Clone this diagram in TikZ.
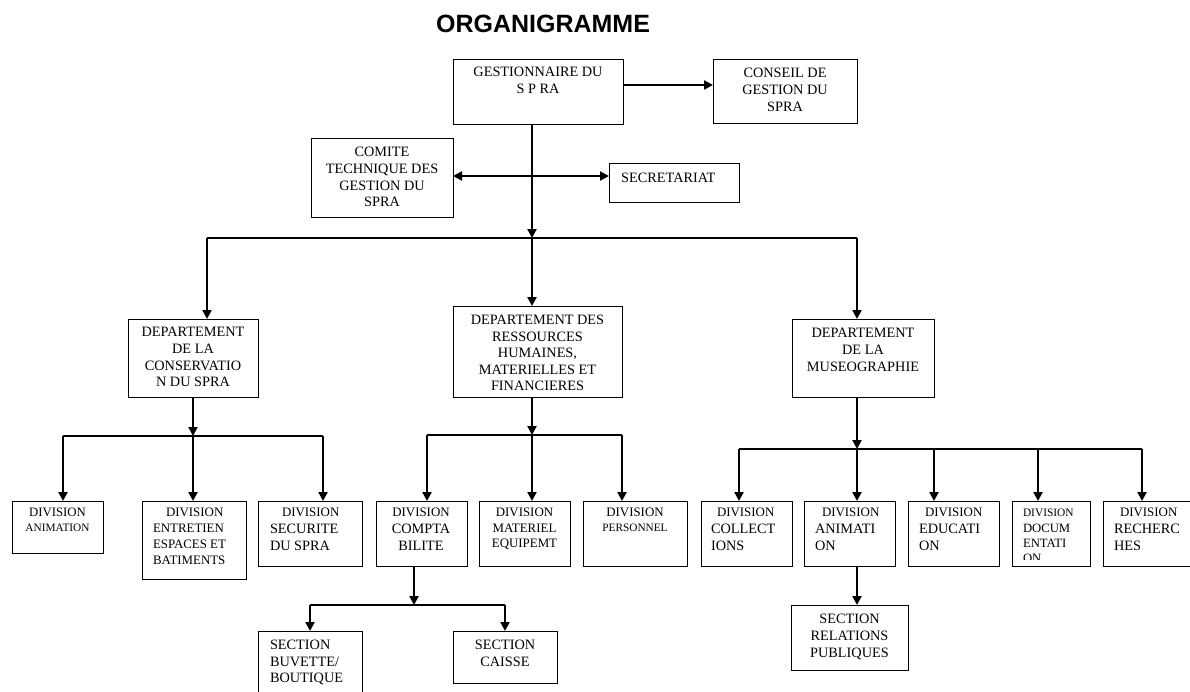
\documentclass[tikz,border=0pt]{standalone}
\usepackage{fontspec}
\setmainfont{Liberation Serif}
\newfontfamily\titlefont{Liberation Sans}
\usetikzlibrary{arrows.meta,calc}
\newcommand\fz[2]{\fontsize{#1}{#2}\selectfont}
\newcommand\bx[5]{\node[box, minimum width={(#4-#2)*1pt}, minimum height={(#5-#3)*1pt}] (#1) at ({(#2+#4)/2},{(#3+#5)/2}) {};}
\begin{document}
\begin{tikzpicture}[x=1pt, y=-1pt,
  box/.style={draw, line width=1pt, rectangle, inner sep=0pt, outer sep=0pt},
  txt/.style={inner sep=0pt, outer sep=0pt, anchor=north, align=center, font=\fz{14.3}{16.6}},
  ltxt/.style={inner sep=0pt, outer sep=0pt, anchor=north west, align=left, font=\fz{14.3}{16.6}},
  conn/.style={line width=2.2pt, -{Triangle[length=9pt,width=9pt]}},
  dconn/.style={line width=2.2pt, {Triangle[length=9pt,width=9pt]}-{Triangle[length=9pt,width=9pt]}},
  bus/.style={line width=1.3pt}]
\clip (0,0) rectangle (1190,691);
\fill[white] (0,0) rectangle (1190,691);

\node[inner sep=0pt, anchor=base, font=\titlefont\bfseries\fz{25}{30}] (title) at (543,32) {ORGANIGRAMME};

% boxes
\bx{gest}{453}{59}{623}{124}
\bx{conseil}{713}{59}{857}{123}
\bx{comite}{311}{138}{453}{217}
\bx{secr}{609}{163}{739}{202}
\bx{dcons}{128}{319}{258}{397}
\bx{drh}{453}{306}{622}{397}
\bx{dmus}{792}{319}{934}{397}
\bx{vanim}{12}{501}{103}{553}
\bx{ventr}{142}{501}{246}{579}
\bx{vsecu}{258}{501}{362}{566}
\bx{vcompta}{376}{501}{467}{566}
\bx{vmat}{479}{501}{570}{566}
\bx{vpers}{583}{501}{687}{566}
\bx{vcoll}{701}{501}{792}{566}
\bx{vanim2}{804}{501}{895}{566}
\bx{vedu}{908}{501}{999}{566}
\bx{vdoc}{1012}{501}{1090}{566}
\bx{vrech}{1103}{501}{1198}{566}
\bx{sbuv}{258}{631}{362}{702}
\bx{scaisse}{453}{631}{557}{683}
\bx{srel}{791}{605}{908}{670}

% texts
\node[txt, font=\fz{14.3}{17}] (tgest) at (538,67.4) {GESTIONNAIRE DU\\S P RA};
\node[txt] (tconseil) at (785,68.4) {CONSEIL DE\\GESTION DU\\SPRA};
\node[txt] (tcomite) at (382,147.4) {COMITE\\TECHNIQUE DES\\GESTION DU\\SPRA};
\node[inner sep=0pt, anchor=base west, font=\fz{14.3}{16.6}] (tsecr) at (621,182) {SECRETARIAT};
\node[txt] (tdcons) at (193,327.4) {DEPARTEMENT\\DE LA\\CONSERVATIO\\N DU SPRA};
\node[txt, font=\fz{14.3}{16.4}] (tdrh) at (537.5,315.4) {DEPARTEMENT DES\\RESSOURCES\\HUMAINES,\\MATERIELLES ET\\FINANCIERES};
\node[txt] (tdmus) at (863,328.4) {DEPARTEMENT\\DE LA\\MUSEOGRAPHIE};

\node[txt, font=\fz{12.8}{15}] (tvanim) at (57.5,508.4) {DIVISION\\\fz{11.3}{15}ANIMATION};
\node[ltxt, font=\fz{12.9}{15.7}] (tventr) at (153,508.4) {\hspace*{13pt}DIVISION\\ENTRETIEN\\ESPACES ET\\BATIMENTS};
\node[ltxt, font=\fz{14.3}{17}] (tvsecu) at (270,508.4) {\fz{12.9}{17}\hspace*{12pt}DIVISION\\\fz{14.3}{17}SECURITE\\DU SPRA};
\node[txt, font=\fz{14.3}{17}] (tvcompta) at (421,508.4) {\fz{12.9}{17}DIVISION\\\fz{14.3}{17}COMPTA\\BILITE};
\node[txt, font=\fz{12.9}{15.5}] (tvmat) at (524.5,508.4) {DIVISION\\\fz{12.9}{15.5}MATERIEL\\EQUIPEMT};
\node[txt, font=\fz{12.9}{15}] (tvpers) at (635,508.4) {DIVISION\\\fz{11.3}{15}PERSONNEL};
\node[ltxt, font=\fz{14.3}{17}] (tvcoll) at (711,508.4) {\fz{12.9}{17}\hspace*{6pt}DIVISION\\\fz{14.3}{17}COLLECT\\IONS};
\node[ltxt, font=\fz{14.3}{17}] (tvanim2) at (815,508.4) {\fz{12.9}{17}\hspace*{7pt}DIVISION\\\fz{14.3}{17}ANIMATI\\ON};
\node[ltxt, font=\fz{14.3}{17}] (tvedu) at (919,508.4) {\fz{12.9}{17}\hspace*{6pt}DIVISION\\\fz{14.3}{17}EDUCATI\\ON};
\begin{scope}
  \clip (1012,501) rectangle (1090,559);
  \node[ltxt, font=\fz{12.7}{15.3}] (tvdoc) at (1023,509.4) {\fz{11.4}{15.3}DIVISION\\\fz{12.7}{15.3}DOCUM\\ENTATI\\ON};
\end{scope}
\node[ltxt, font=\fz{14.3}{17}] (tvrech) at (1114,508.4) {\fz{12.9}{17}\hspace*{6pt}DIVISION\\\fz{14.3}{17}RECHERC\\HES};
\node[ltxt, font=\fz{14.3}{16.5}] (tsbuv) at (270,640.4) {SECTION\\BUVETTE/\\BOUTIQUE};
\node[txt, font=\fz{14.3}{16.5}] (tscaisse) at (505,640.4) {SECTION\\CAISSE};
\node[txt, font=\fz{14.3}{17}] (tsrel) at (849.5,614.4) {SECTION\\RELATIONS\\PUBLIQUES};

% top connectors
\coordinate (ga) at (623,85);
\draw[conn] (ga) -- (ga -| conseil.west);
\coordinate (cs) at (532,176);
\draw[dconn] (comite.east |- cs) -- (secr.west |- cs);
\coordinate (J0) at (532,238);
\draw[conn] (gest.south -| J0) -- (J0);
\coordinate (B0L) at (207,238);
\coordinate (B0R) at (857,238);
\draw[bus] (B0L) -- (B0R);
\draw[conn] (B0L) -- (B0L |- dcons.north);
\draw[conn] (J0) -- (J0 |- drh.north);
\draw[conn] (B0R) -- (B0R |- dmus.north);

% conservation
\coordinate (J1) at (193,436);
\coordinate (B1a) at (63,436);
\coordinate (B1c) at (323,436);
\draw[conn] (J1 |- dcons.south) -- (J1);
\draw[bus] (B1a) -- (B1c);
\draw[conn] (B1a) -- (B1a |- vanim.north);
\draw[conn] (J1) -- (J1 |- ventr.north);
\draw[conn] (B1c) -- (B1c |- vsecu.north);

% ressources
\coordinate (J2) at (532,435);
\coordinate (B2a) at (427,435);
\coordinate (B2c) at (622,435);
\draw[conn] (J2 |- drh.south) -- (J2);
\draw[bus] (B2a) -- (B2c);
\draw[conn] (B2a) -- (B2a |- vcompta.north);
\draw[conn] (J2) -- (J2 |- vmat.north);
\draw[conn] (B2c) -- (B2c |- vpers.north);

% museographie
\coordinate (J3) at (857,449);
\coordinate (B3a) at (739,449);
\coordinate (B3c) at (934,449);
\coordinate (B3d) at (1038,449);
\coordinate (B3e) at (1142,449);
\draw[conn] (J3 |- dmus.south) -- (J3);
\draw[bus] (B3a) -- (B3e);
\draw[conn] (B3a) -- (B3a |- vcoll.north);
\draw[conn] (J3) -- (J3 |- vanim2.north);
\draw[conn] (B3c) -- (B3c |- vedu.north);
\draw[conn] (B3d) -- (B3d |- vdoc.north);
\draw[conn] (B3e) -- (B3e |- vrech.north);
\draw[conn] (J3 |- vanim2.south) -- (J3 |- srel.north);

% comptabilite
\coordinate (J4) at (414,605);
\coordinate (B4a) at (310,605);
\coordinate (B4b) at (505,605);
\draw[conn] (J4 |- vcompta.south) -- (J4);
\draw[bus] (B4a) -- (B4b);
\draw[conn] (B4a) -- (B4a |- sbuv.north);
\draw[conn] (B4b) -- (B4b |- scaisse.north);
\end{tikzpicture}
\end{document}
